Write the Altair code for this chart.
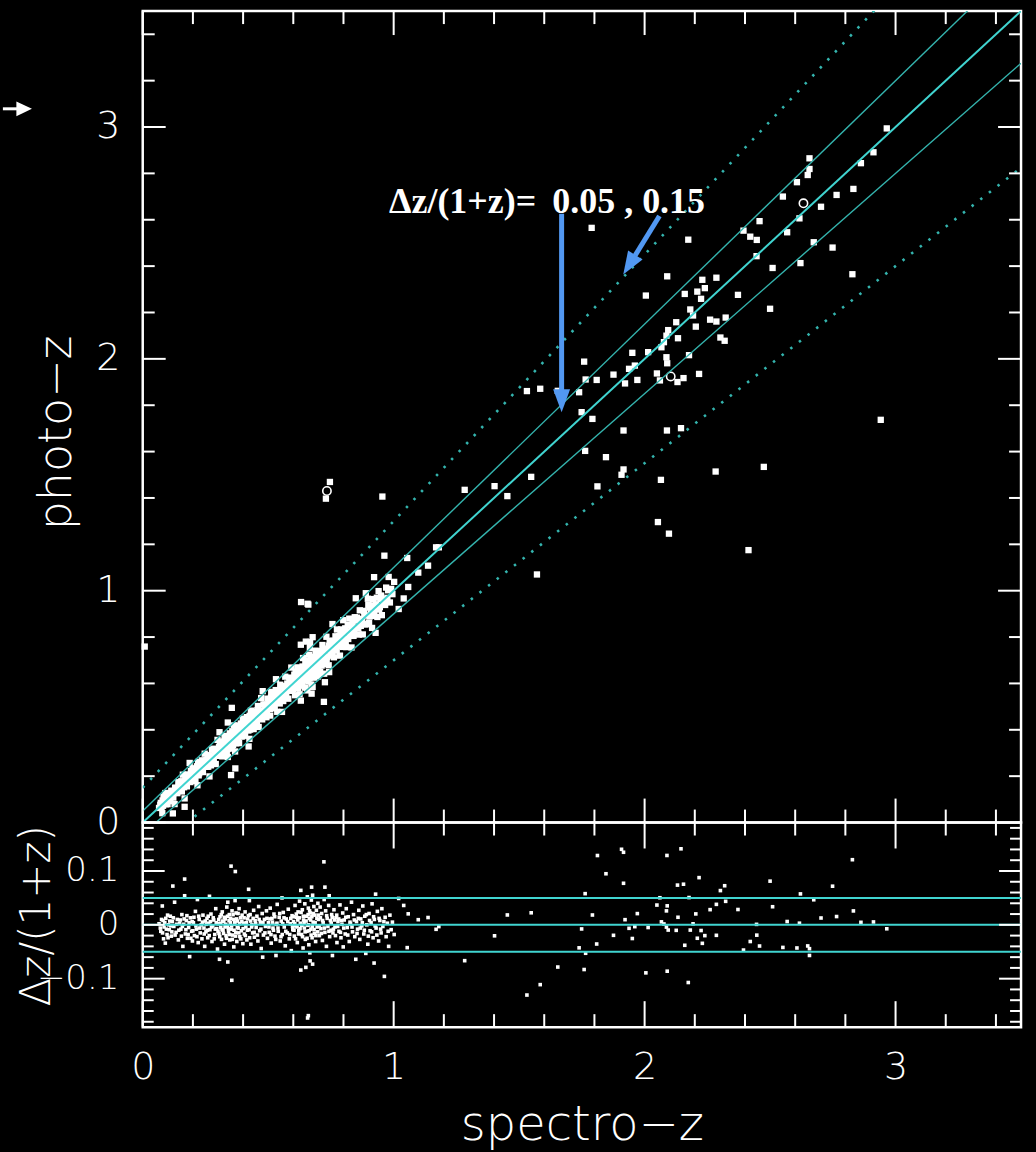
import altair as alt
import pandas as pd

# ---------------- data ----------------
# objects read in the upper panel: (spectro-z, photo-z)
HI_POINTS = [
    (2.965, 2.994), (2.912, 2.891), (2.862, 2.844), (2.657, 2.865), (2.657, 2.819),
    (2.650, 2.793), (2.607, 2.762), (2.765, 2.707), (2.832, 2.733), (2.551, 2.700),
    (2.703, 2.656), (2.617, 2.606), (2.458, 2.594), (2.568, 2.546), (2.394, 2.553),
    (2.421, 2.527), (2.447, 2.513), (2.674, 2.503), (2.749, 2.480), (1.789, 2.565),
    (2.174, 2.514), (2.446, 2.443), (2.621, 2.413), (2.510, 2.392), (2.828, 2.365),
    (2.090, 2.356), (2.286, 2.350), (2.230, 2.341), (2.240, 2.305), (2.210, 2.290),
    (2.160, 2.280), (2.005, 2.273), (2.372, 2.276), (2.225, 2.259), (2.182, 2.213),
    (2.193, 2.187), (2.500, 2.216), (2.323, 2.178), (2.261, 2.169), (2.286, 2.161),
    (2.126, 2.158), (2.204, 2.139), (2.094, 2.124), (2.087, 2.100), (2.302, 2.092),
    (2.319, 2.078), (2.133, 2.089), (2.077, 2.072), (2.067, 2.050), (1.951, 2.026),
    (2.014, 2.029), (2.177, 2.016), (2.087, 2.007), (2.090, 1.981), (1.961, 1.971),
    (1.938, 1.957), (1.971, 1.909), (1.759, 1.988), (2.049, 1.937), (2.131, 1.900),
    (2.155, 1.917), (2.217, 1.935), (1.876, 1.932), (1.922, 1.894), (2.061, 1.907),
    (1.809, 1.909), (1.765, 1.911), (1.739, 1.856), (1.531, 1.861), (1.584, 1.871),
    (1.654, 1.862), (1.749, 1.770), (1.792, 1.741), (1.916, 1.691), (2.089, 1.691),
    (2.145, 1.701), (2.941, 1.737), (1.548, 1.491), (1.453, 1.408), (1.763, 1.603),
    (1.846, 1.576), (1.916, 1.523), (1.908, 1.500), (1.812, 1.450), (2.065, 1.478),
    (2.283, 1.514), (2.475, 1.534), (2.053, 1.296), (2.097, 1.246), (1.571, 1.070),
    (2.414, 1.175), (0.955, 1.406), (1.283, 1.435), (1.402, 1.451), (0.746, 1.469),
    (0.730, 1.397), (0.963, 1.151), (1.054, 1.141), (1.169, 1.187), (1.180, 1.187),
    (1.137, 1.108), (1.098, 1.078), (1.058, 1.016), (0.008, 0.759), (0.631, 0.951),
    (0.660, 0.940),
]

# open circles in the upper panel: (spectro-z, photo-z)
CIRCLE_POINTS = [(0.734, 1.430), (2.104, 1.924), (2.633, 2.671)]

# low-z objects read in the lower panel: (spectro-z, dz/(1+z)) -- scattered part
LOWZ_POINTS = [
    (0.065, 0.002), (0.072, -0.012), (0.078, 0.035), (0.081, 0.008), (0.083, -0.026),
    (0.085, -0.004), (0.090, -0.034), (0.092, 0.012), (0.097, -0.018), (0.103, 0.000),
    (0.106, -0.009), (0.110, 0.016), (0.114, -0.021), (0.118, 0.006), (0.120, 0.072),
    (0.124, -0.003), (0.127, 0.042), (0.133, -0.014), (0.138, 0.010), (0.142, -0.028),
    (0.147, 0.003), (0.152, -0.008), (0.156, 0.019), (0.160, -0.040), (0.163, 0.001),
    (0.167, 0.085), (0.167, 0.054), (0.170, -0.017), (0.174, 0.008), (0.178, -0.025),
    (0.183, -0.005), (0.187, -0.059), (0.190, 0.013), (0.195, -0.012), (0.198, -0.030),
    (0.202, 0.004), (0.206, -0.020), (0.210, 0.025), (0.214, -0.008), (0.218, 0.047),
    (0.221, -0.033), (0.225, 0.010), (0.229, -0.015), (0.233, 0.000), (0.236, -0.026),
    (0.240, 0.018), (0.244, -0.006), (0.247, -0.040), (0.249, 0.007), (0.252, -0.013),
    (0.256, 0.012), (0.259, -0.024), (0.263, 0.003), (0.266, 0.053), (0.268, -0.009),
    (0.272, 0.020), (0.276, -0.031), (0.279, -0.002), (0.283, 0.009), (0.287, -0.018),
    (0.291, 0.030), (0.295, -0.007), (0.298, -0.045), (0.301, 0.002), (0.304, -0.016),
    (0.306, -0.064), (0.308, 0.015), (0.311, -0.005), (0.314, -0.027), (0.317, 0.024),
    (0.320, -0.010), (0.323, 0.006), (0.326, -0.036), (0.329, 0.011), (0.332, -0.020),
    (0.335, 0.033), (0.337, -0.002), (0.339, -0.069), (0.339, 0.042), (0.342, -0.013),
    (0.345, 0.019), (0.347, -0.028), (0.349, 0.004), (0.352, 0.109), (0.353, -0.008),
    (0.355, -0.103), (0.356, 0.026), (0.358, -0.019), (0.361, 0.010), (0.363, -0.041),
    (0.366, 0.001), (0.368, 0.045), (0.369, 0.099), (0.371, -0.014), (0.372, 0.022),
    (0.375, -0.031), (0.378, 0.007), (0.381, -0.006), (0.384, 0.030), (0.387, -0.022),
    (0.390, 0.013), (0.393, -0.011), (0.396, 0.018), (0.399, -0.035), (0.402, 0.003),
    (0.405, -0.017), (0.408, 0.024), (0.411, -0.004), (0.415, -0.028), (0.418, 0.011),
    (0.422, 0.066), (0.425, 0.045), (0.424, -0.009), (0.428, 0.019), (0.431, -0.036),
    (0.435, 0.000), (0.438, -0.015), (0.442, 0.027), (0.445, -0.023), (0.448, 0.008),
    (0.452, -0.005), (0.455, 0.016), (0.459, -0.030), (0.462, 0.034), (0.466, -0.011),
    (0.469, 0.005), (0.472, -0.044), (0.476, 0.021), (0.478, -0.060), (0.481, -0.019),
    (0.485, 0.010), (0.489, -0.003), (0.493, 0.026), (0.497, -0.025), (0.501, 0.004),
    (0.504, -0.014), (0.508, 0.031), (0.512, -0.034), (0.515, 0.012), (0.519, -0.006),
    (0.523, 0.020), (0.527, -0.021), (0.531, -0.057), (0.532, 0.001), (0.536, 0.038),
    (0.540, -0.012), (0.544, 0.014), (0.548, -0.030), (0.552, 0.007), (0.555, 0.050),
    (0.556, -0.018), (0.560, 0.023), (0.564, -0.004), (0.568, -0.039), (0.572, 0.011),
    (0.576, -0.015), (0.580, 0.029), (0.584, -0.026), (0.588, 0.002), (0.592, -0.048),
    (0.595, 0.017), (0.598, -0.009), (0.601, 0.006), (0.604, -0.021), (0.607, 0.036),
    (0.610, -0.002), (0.613, 0.014), (0.616, -0.033), (0.619, 0.024), (0.622, -0.011),
    (0.625, 0.044), (0.628, 0.003), (0.630, 0.064), (0.630, -0.084), (0.633, -0.018),
    (0.636, 0.028), (0.639, -0.043), (0.641, 0.009), (0.644, -0.006), (0.646, 0.039),
    (0.648, -0.027), (0.650, -0.079), (0.652, 0.016), (0.654, -0.012), (0.656, 0.052),
    (0.657, -0.173), (0.658, -0.001), (0.660, 0.031), (0.662, -0.037), (0.664, 0.012),
    (0.666, -0.052), (0.667, -0.067), (0.668, 0.022), (0.670, -0.008), (0.672, 0.046),
    (0.673, 0.070), (0.675, -0.024), (0.677, 0.055), (0.677, -0.073), (0.679, 0.005),
    (0.682, 0.034), (0.684, -0.016), (0.686, 0.018), (0.689, -0.031), (0.692, 0.027),
    (0.695, -0.004), (0.698, 0.040), (0.701, 0.010), (0.704, -0.020), (0.707, 0.033),
    (0.710, -0.007), (0.713, 0.021), (0.716, -0.029), (0.719, 0.004), (0.722, 0.117),
    (0.723, 0.047), (0.726, 0.070), (0.726, -0.014), (0.729, 0.026), (0.732, -0.040),
    (0.735, 0.012), (0.738, -0.003), (0.741, 0.036), (0.743, 0.054), (0.745, -0.022),
    (0.748, 0.008), (0.750, -0.010), (0.753, 0.019), (0.756, -0.057), (0.758, -0.015),
    (0.762, 0.028), (0.766, -0.004), (0.770, 0.013), (0.774, -0.033), (0.778, 0.006),
    (0.782, -0.012), (0.786, 0.037), (0.790, -0.024), (0.794, 0.001), (0.797, 0.022),
    (0.799, -0.041), (0.803, 0.009), (0.807, -0.017), (0.811, 0.030), (0.815, -0.005),
    (0.819, 0.015), (0.823, -0.031), (0.828, 0.002), (0.832, 0.042), (0.836, -0.013),
    (0.840, 0.019), (0.845, -0.022), (0.849, -0.064), (0.852, 0.006), (0.856, -0.008),
    (0.861, 0.027), (0.865, -0.027), (0.869, 0.011), (0.873, -0.002), (0.877, 0.035),
    (0.881, -0.017), (0.885, 0.016), (0.889, -0.053), (0.893, 0.000), (0.897, -0.036),
    (0.902, 0.021), (0.906, -0.011), (0.910, 0.004), (0.914, 0.039), (0.918, -0.024),
    (0.922, -0.071), (0.923, 0.010), (0.928, 0.057), (0.930, -0.006), (0.935, 0.025),
    (0.940, -0.030), (0.945, 0.008), (0.950, -0.015), (0.953, 0.030), (0.957, -0.003),
    (0.966, 0.014), (0.970, -0.022), (0.975, 0.003), (0.980, -0.040), (0.985, 0.018),
    (0.990, -0.009), (0.995, 0.005), (1.002, -0.018), (1.020, 0.049), (1.040, 0.036),
]

# low-z objects read in the lower panel: (spectro-z, dz/(1+z)) -- crowded core of the band
LOWZ_CORE = [
    (0.070, -0.006), (0.075, 0.010), (0.079, -0.015), (0.088, 0.004), (0.094, -0.008),
    (0.099, 0.018), (0.101, -0.024), (0.108, 0.007), (0.112, -0.002), (0.116, -0.013),
    (0.122, 0.013), (0.129, -0.019), (0.135, 0.001), (0.144, -0.010), (0.150, 0.009),
    (0.154, -0.021), (0.158, -0.003), (0.165, 0.011), (0.172, -0.009), (0.176, 0.017),
    (0.181, -0.018), (0.185, 0.004), (0.192, -0.025), (0.197, 0.006), (0.200, -0.011),
    (0.204, 0.014), (0.212, -0.002), (0.216, -0.022), (0.223, 0.016), (0.227, -0.006),
    (0.238, 0.005), (0.245, -0.017), (0.254, 0.001), (0.258, -0.010), (0.261, 0.016),
    (0.265, -0.020), (0.270, 0.006), (0.274, -0.004), (0.281, 0.013), (0.285, -0.026),
    (0.289, -0.008), (0.293, 0.004), (0.300, -0.012), (0.303, 0.010), (0.307, -0.022),
    (0.310, 0.003), (0.313, 0.019), (0.316, -0.009), (0.319, 0.007), (0.322, -0.016),
    (0.325, 0.014), (0.328, -0.004), (0.331, 0.001), (0.334, -0.025), (0.338, 0.016),
    (0.341, -0.007), (0.344, 0.008), (0.346, -0.018), (0.350, 0.012), (0.354, -0.002),
    (0.357, -0.027), (0.360, 0.019), (0.364, -0.010), (0.367, 0.005), (0.370, -0.021),
    (0.374, 0.011), (0.377, -0.005), (0.380, 0.021), (0.383, -0.015), (0.386, 0.002),
    (0.391, -0.026), (0.395, 0.006), (0.400, -0.007), (0.404, 0.013), (0.409, -0.020),
    (0.413, 0.004), (0.417, -0.010), (0.421, 0.017), (0.426, -0.024), (0.430, 0.007),
    (0.434, -0.004), (0.440, 0.012), (0.444, -0.014), (0.450, 0.002), (0.457, -0.019),
    (0.464, 0.010), (0.471, -0.008), (0.479, 0.004), (0.487, -0.015), (0.495, 0.012),
    (0.503, -0.004), (0.507, 0.011), (0.511, -0.018), (0.517, 0.005), (0.521, -0.010),
    (0.526, 0.015), (0.530, -0.027), (0.535, 0.003), (0.539, -0.006), (0.546, 0.021),
    (0.551, -0.022), (0.558, 0.002), (0.563, 0.013), (0.570, -0.012), (0.578, 0.006),
    (0.586, -0.018), (0.590, 0.012), (0.597, -0.003), (0.600, 0.015), (0.603, -0.010),
    (0.606, 0.002), (0.609, -0.026), (0.612, 0.020), (0.615, -0.004), (0.618, 0.009),
    (0.621, -0.017), (0.624, 0.013), (0.627, -0.007), (0.631, 0.023), (0.634, -0.001),
    (0.637, -0.022), (0.640, 0.016), (0.643, 0.004), (0.647, -0.013), (0.651, 0.007),
    (0.655, -0.025), (0.659, 0.019), (0.661, 0.000), (0.663, -0.011), (0.665, 0.026),
    (0.669, 0.009), (0.671, -0.019), (0.674, 0.015), (0.676, -0.003), (0.680, 0.021),
    (0.683, -0.009), (0.687, 0.004), (0.690, -0.020), (0.694, 0.012), (0.697, -0.013),
    (0.700, 0.018), (0.703, -0.002), (0.708, 0.013), (0.712, -0.016), (0.717, 0.008),
    (0.724, -0.006), (0.733, 0.017), (0.742, -0.012), (0.751, 0.003), (0.755, 0.014),
    (0.760, -0.008), (0.764, 0.009), (0.768, -0.020), (0.773, 0.018), (0.777, -0.003),
    (0.781, 0.011), (0.788, -0.014), (0.792, 0.008), (0.801, -0.006), (0.809, 0.014),
    (0.817, -0.019), (0.826, 0.005), (0.834, -0.004), (0.843, 0.009), (0.854, -0.016),
    (0.859, 0.012), (0.867, -0.006), (0.875, 0.004), (0.883, -0.010), (0.891, 0.019),
    (0.899, -0.021), (0.904, 0.008), (0.912, -0.013), (0.920, 0.015), (0.926, -0.002),
    (0.933, -0.019), (0.942, 0.012), (0.948, -0.008), (0.961, 0.006), (0.978, -0.012),
]

LINE_OFFSETS = [-0.15, -0.05, 0.0, 0.05, 0.15]   # dz/(1+z) of the guide lines
LINE_ENDS = [0.0, 3.5]
BAND_LEVELS = [-0.05, 0.0, 0.05]

X_MAJOR = [0, 1, 2, 3]
X_MINOR = [0.2, 0.4, 0.6, 0.8, 1.2, 1.4, 1.6, 1.8, 2.2, 2.4, 2.6, 2.8, 3.2, 3.4]
YT_MAJOR = [0, 1, 2, 3]
YT_MINOR = [0.2, 0.4, 0.6, 0.8, 1.2, 1.4, 1.6, 1.8, 2.2, 2.4, 2.6, 2.8, 3.2, 3.4]
YB_MAJOR = [-0.1, 0.0, 0.1]
YB_MINOR = [-0.18, -0.16, -0.14, -0.12, -0.08, -0.06, -0.04, -0.02,
            0.02, 0.04, 0.06, 0.08, 0.12, 0.14, 0.16, 0.18]

ANNOTATION = "Δz/(1+z)=\u2009 0.05 , 0.15"

# ---------------- styling ----------------
W, HT, HB = 880, 813, 205
WHITE = "white"
CYAN = "#40d4d0"
CYAN_DIM = "#34b4ae"
BLUE = "#5298f2"
FONT = "DejaVu Sans"
LIGHT = 200

hi_df = pd.DataFrame(HI_POINTS, columns=["spec", "photo"])
lo_df = pd.DataFrame(LOWZ_POINTS + LOWZ_CORE, columns=["spec", "dz"])
circ_df = pd.DataFrame(CIRCLE_POINTS, columns=["spec", "photo"])
line_df = pd.DataFrame([(k, e) for k in LINE_OFFSETS for e in LINE_ENDS], columns=["k", "spec"])
band_df = pd.DataFrame({"dz": BAND_LEVELS})
one = pd.DataFrame({"t": [ANNOTATION]})

xsc = alt.Scale(domain=[0, 3.5], nice=False, zero=False)
ytsc = alt.Scale(domain=[0, 3.5], nice=False, zero=False)
ybsc = alt.Scale(domain=[-0.19, 0.19], nice=False, zero=False)

# axes: the same definition is given to every layer that uses the scale
top_y_axis = alt.Axis(
    values=YT_MAJOR, format="d", grid=False, ticks=False, domain=False,
    labelFont=FONT, labelFontSize=38, labelFontWeight=LIGHT, labelColor=WHITE, labelPadding=23,
    title="photo−z", titleFont=FONT, titleFontSize=46, titleFontWeight=LIGHT, titleColor=WHITE,
    titleAngle=270, titleX=-86, titleY=422, titleBaseline="middle", titleAlign="center",
)
bot_x_axis = alt.Axis(
    values=X_MAJOR, format="d", grid=False, ticks=False, domain=False, labelFlush=False,
    labelFont=FONT, labelFontSize=38, labelFontWeight=LIGHT, labelColor=WHITE, labelPadding=21,
    title="spectro−z", titleFont=FONT, titleFontSize=48, titleFontWeight=LIGHT, titleColor=WHITE,
    titleX=440, titleY=99, titleBaseline="middle", titleAlign="center",
)
bot_y_axis = alt.Axis(
    values=YB_MAJOR, format=".1~f", grid=False, ticks=False, domain=False,
    labelFont=FONT, labelFontSize=34, labelFontWeight=LIGHT, labelColor=WHITE, labelPadding=24,
    title="Δz/(1+z)", titleFont=FONT, titleFontSize=42, titleFontWeight=LIGHT, titleColor=WHITE,
    titleAngle=270, titleX=-106, titleY=93, titleBaseline="middle", titleAlign="center",
)


def XT(f):
    return alt.X(f, scale=xsc, axis=None)


def YT(f):
    return alt.Y(f, scale=ytsc, axis=top_y_axis)


def XB(f):
    return alt.X(f, scale=xsc, axis=bot_x_axis)


def YB(f):
    return alt.Y(f, scale=ybsc, axis=bot_y_axis)


def edge_ticks(values, length, xenc, yenc, ch, extent):
    d = pd.DataFrame({"v": values})
    base = alt.Chart(d).mark_rule(color=WHITE, strokeWidth=2)
    if ch == "x":
        enc = xenc("v:Q")
        return [base.encode(x=enc, y=alt.value(extent), y2=alt.value(extent - length)),
                base.encode(x=enc, y=alt.value(0), y2=alt.value(length))]
    enc = yenc("v:Q")
    return [base.encode(y=enc, x=alt.value(0), x2=alt.value(length)),
            base.encode(y=enc, x=alt.value(extent), x2=alt.value(extent - length))]


# ---------------- upper panel ----------------
top_hi = alt.Chart(hi_df).mark_square(size=40, color=WHITE, opacity=1).encode(
    x=XT("spec:Q"), y=YT("photo:Q"))
top_lo = alt.Chart(lo_df).transform_calculate(
    photo="datum.spec - datum.dz * (1 + datum.spec)"
).mark_square(size=40, color=WHITE, opacity=1).encode(x=XT("spec:Q"), y=YT("photo:Q"))
top_circ = alt.Chart(circ_df).mark_circle(
    size=70, fill="black", stroke=WHITE, strokeWidth=1.6, opacity=1
).encode(x=XT("spec:Q"), y=YT("photo:Q"))


def diag(expr, **mk):
    return alt.Chart(line_df).transform_filter(expr).transform_calculate(
        photo="datum.spec + datum.k * (1 + datum.spec)"
    ).mark_line(clip=True, **mk).encode(x=XT("spec:Q"), y=YT("photo:Q"), detail="k:N")


line_mid = diag("datum.k == 0", color=CYAN, strokeWidth=2)
line_05 = diag("abs(datum.k) > 0.01 && abs(datum.k) < 0.1", color=CYAN_DIM, strokeWidth=1.4)
line_15 = diag("abs(datum.k) > 0.1", color=CYAN_DIM, strokeWidth=2.6, strokeDash=[2.5, 8.5])

ann_text = alt.Chart(one).mark_text(
    font="Liberation Serif", fontSize=36, fontWeight="bold", color=WHITE, align="left", baseline="alphabetic"
).encode(text="t:N", x=alt.value(246.7), y=alt.value(201.9))
arrow1 = alt.Chart(one).mark_rule(color=BLUE, strokeWidth=5).encode(
    x=alt.value(419.7), y=alt.value(203), x2=alt.value(419.7), y2=alt.value(382))
arrow1_head = alt.Chart(one).mark_point(
    shape="M-0.74,-1L0.74,-1L0,1Z", size=529, filled=True, color=BLUE, opacity=1
).encode(x=alt.value(419.7), y=alt.value(390.5))
arrow2 = alt.Chart(one).mark_rule(color=BLUE, strokeWidth=5).encode(
    x=alt.value(517.7), y=alt.value(205.3), x2=alt.value(493.3), y2=alt.value(244.9))
arrow2_head = alt.Chart(one).mark_point(
    shape="M-0.74,-1L0.74,-1L0,1Z", size=529, filled=True, color=BLUE, opacity=1, angle=31.7
).encode(x=alt.value(487.5), y=alt.value(254.2))

# fragment of a neighbouring figure at the left border (white arrow)
side_arrow = alt.Chart(one).mark_rule(color=WHITE, strokeWidth=3).encode(
    x=alt.value(-140.1), x2=alt.value(-125), y=alt.value(97.9), y2=alt.value(97.9))
side_arrow_head = alt.Chart(one).mark_point(
    shape="M-1,-0.95L1,0L-1,0.95Z", size=243, filled=True, color=WHITE, opacity=1
).encode(x=alt.value(-118.8), y=alt.value(97.9))

top_layers = [top_hi, top_lo, top_circ, line_15, line_05, line_mid]
top_layers += edge_ticks(X_MAJOR, 24, XT, YT, "x", HT)
top_layers += edge_ticks(X_MINOR, 13, XT, YT, "x", HT)
top_layers += edge_ticks(YT_MAJOR, 23, XT, YT, "y", W)
top_layers += edge_ticks(YT_MINOR, 12, XT, YT, "y", W)
top_layers += [ann_text, arrow1, arrow1_head, arrow2, arrow2_head, side_arrow, side_arrow_head]
top = alt.layer(*top_layers).properties(width=W, height=HT)

# ---------------- lower panel ----------------
bot_lo = alt.Chart(lo_df).transform_filter("abs(datum.dz) <= 0.186").mark_square(
    size=13, color=WHITE, opacity=1).encode(x=XB("spec:Q"), y=YB("dz:Q"))
bot_hi = alt.Chart(hi_df).transform_calculate(
    dz="(datum.spec - datum.photo) / (1 + datum.spec)"
).transform_filter("abs(datum.dz) <= 0.186").mark_square(
    size=13, color=WHITE, opacity=1).encode(x=XB("spec:Q"), y=YB("dz:Q"))
bot_lines = alt.Chart(band_df).mark_rule(color=CYAN, strokeWidth=2).encode(y=YB("dz:Q"))

bot_layers = [bot_lo, bot_hi, bot_lines]
bot_layers += edge_ticks(X_MAJOR, 26, XB, YB, "x", HB)
bot_layers += edge_ticks(X_MINOR, 13, XB, YB, "x", HB)
bot_layers += edge_ticks(YB_MAJOR, 22, XB, YB, "y", W)
bot_layers += edge_ticks(YB_MINOR, 11, XB, YB, "y", W)
bottom = alt.layer(*bot_layers).properties(width=W, height=HB)

chart = alt.vconcat(top, bottom, spacing=0, bounds="flush").properties(
    padding={"left": 0, "top": 7, "right": 12, "bottom": 5},
    background="black",
).configure_view(stroke=WHITE, strokeWidth=2.5)

chart.save("out.html", embed_options={"renderer": "svg", "actions": False})
